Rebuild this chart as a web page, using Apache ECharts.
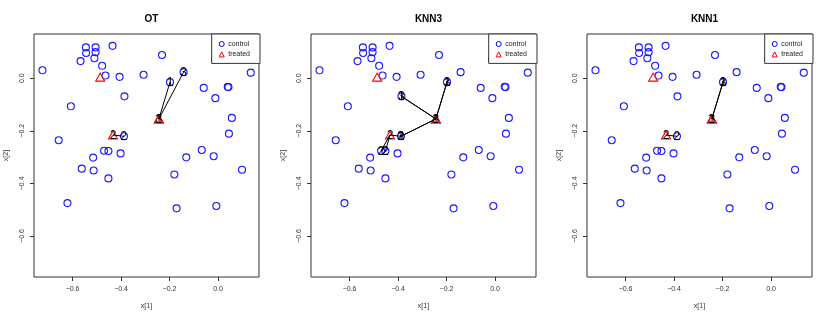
<!DOCTYPE html>
<html>
<head>
<meta charset="utf-8">
<script src="https://cdn.jsdelivr.net/npm/echarts@6/dist/echarts.min.js"></script>
<style>
  html, body { margin: 0; padding: 0; background: #fff; }
  #main { width: 830px; height: 320px; }
</style>
</head>
<body>
<div id="main"></div>
<script>
// panels
var panelTitles = ['OT', 'KNN3', 'KNN1'];

// control units
var controlX = [-0.724, -0.545, -0.505, -0.544, -0.505, -0.435, -0.567, -0.510, -0.478, -0.464,
  -0.406, -0.307, -0.231, -0.142, -0.198, -0.012, 0.135, -0.059, 0.040, 0.043,
  -0.011, -0.386, -0.607, 0.057, 0.045, -0.657, -0.388, -0.470, -0.452, -0.402,
  -0.515, -0.131, -0.067, -0.018, -0.562, -0.513, 0.099, -0.452, -0.180, -0.621,
  -0.171, -0.007, -0.505];
var controlY = [0.030, 0.117, 0.117, 0.096, 0.099, 0.123, 0.065, 0.076, 0.047, 0.010,
  0.005, 0.013, 0.088, 0.023, -0.015, 0.073, 0.021, -0.037, -0.033, -0.034,
  -0.076, -0.069, -0.107, -0.151, -0.211, -0.236, -0.221, -0.276, -0.277, -0.286,
  -0.302, -0.301, -0.273, -0.297, -0.344, -0.351, -0.348, -0.381, -0.366, -0.475,
  -0.495, -0.486, 0.180];

// treated units
var treatedX = [-0.244, -0.433, -0.244, -0.486];
var treatedY = [-0.155, -0.216, -0.155, 0.004];
var treatedLabels = ['1', '2', '3', ''];

// matches: [treated index, control index]
var otPairs = [[0, 14], [1, 26], [2, 13]];
var knn3Pairs = [[0, 14], [0, 21], [0, 26], [1, 26], [1, 27], [1, 28], [2, 14], [2, 21], [2, 26]];
var knn1Pairs = [[0, 14], [1, 26], [2, 14]];
var panelPairs = [otPairs, knn3Pairs, knn1Pairs];

// axes
var xRange = [-0.759, 0.169];
var yRange = [-0.756, 0.168];
var xTicks = [-0.6, -0.4, -0.2, 0.0];
var yTicks = [-0.6, -0.4, -0.2, 0.0];

var font = "'Liberation Sans', Arial, Helvetica, sans-serif";
var chart = echarts.init(document.getElementById('main'));

function fmt(v) {
  return (v < -1e-9 ? '\u2212' : '') + Math.abs(v).toFixed(1);
}

var controlData = controlX.map(function (x, i) { return [x, controlY[i]]; });
var treatedData = treatedX.map(function (x, i) { return [x, treatedY[i]]; });

// text at data points, drawn through the axes of the panel
function labelRender(params, api) {
  var pt = api.coord([api.value(0), api.value(1)]);
  return {
    type: 'text',
    x: pt[0], y: pt[1] + 0.5,
    style: {
      text: String(api.value(2)),
      fill: '#000',
      fontSize: 12,
      fontFamily: font,
      align: 'center',
      verticalAlign: 'middle'
    }
  };
}

var pw = 830 / 3;
var grids = [], xAxes = [], yAxes = [], titles = [], legends = [], series = [];

for (var p = 0; p < 3; p++) {
  var left = Math.round(34 + p * pw);
  grids.push({
    left: left, top: 34, width: 225, height: 243,
    show: true, borderColor: '#333', borderWidth: 1, backgroundColor: 'transparent'
  });
  titles.push({
    text: panelTitles[p], left: left + 112.5, top: 9, textAlign: 'center',
    textStyle: { fontSize: 10, fontWeight: 'bold', color: '#000', fontFamily: font }
  });
  xAxes.push({
    gridIndex: p, type: 'value', min: xRange[0], max: xRange[1],
    name: 'x[1]', nameLocation: 'middle', nameGap: 26,
    nameTextStyle: { fontSize: 7, color: '#333', fontFamily: font },
    axisLine: { show: false, onZero: false },
    axisTick: { show: true, inside: false, length: 4, customValues: xTicks, lineStyle: { color: '#333' } },
    axisLabel: { customValues: xTicks, formatter: fmt, margin: 9, fontSize: 7, color: '#333', fontFamily: font },
    splitLine: { show: false }
  });
  yAxes.push({
    gridIndex: p, type: 'value', min: yRange[0], max: yRange[1],
    name: 'x[2]', nameLocation: 'middle', nameGap: 24,
    nameTextStyle: { fontSize: 7, color: '#333', fontFamily: font },
    axisLine: { show: false, onZero: false },
    axisTick: { show: true, inside: false, length: 4, customValues: yTicks, lineStyle: { color: '#333' } },
    axisLabel: { customValues: yTicks, formatter: fmt, rotate: 90, margin: 8, fontSize: 7, color: '#333', fontFamily: font },
    splitLine: { show: false }
  });
  legends.push({
    left: left + 177.7, top: 34, orient: 'vertical',
    selectedMode: false,
    padding: [5, 10, 4, 5], itemGap: 0.4, itemWidth: 5, itemHeight: 5,
    backgroundColor: '#fff', borderColor: '#333', borderWidth: 1, borderRadius: 0,
    z: 10,
    textStyle: { fontSize: 7, lineHeight: 8, color: '#222', fontFamily: font, padding: [0, 0, 0, -1] },
    data: [
      { name: 'control', icon: 'circle', itemStyle: { color: 'none', borderColor: '#0000ff', borderWidth: 1 } },
      { name: 'treated', icon: 'triangle', itemStyle: { color: 'none', borderColor: '#ff0000', borderWidth: 1 } }
    ]
  });

  series.push({
    name: 'control', type: 'scatter', xAxisIndex: p, yAxisIndex: p,
    data: controlData, symbol: 'circle', symbolSize: 7, z: 2, silent: true,
    itemStyle: { color: 'none', borderColor: '#1a1aff', borderWidth: 1.1, opacity: 1 }
  });
  series.push({
    name: 'treated', type: 'scatter', xAxisIndex: p, yAxisIndex: p,
    data: treatedData, symbol: 'triangle', symbolSize: [9, 8], z: 2, silent: true,
    itemStyle: { color: 'none', borderColor: '#ff0000', borderWidth: 1.1, opacity: 1 }
  });

  var pairs = panelPairs[p];
  var segs = [], labs = [];
  pairs.forEach(function (pr) {
    var t = pr[0], c = pr[1];
    segs.push({ coords: [[treatedX[t], treatedY[t]], [controlX[c], controlY[c]]] });
    labs.push([controlX[c], controlY[c], treatedLabels[t]]);
  });
  [0, 1, 2].forEach(function (t) {
    labs.push([treatedX[t], treatedY[t], treatedLabels[t]]);
  });

  series.push({
    name: 'match', type: 'lines', coordinateSystem: 'cartesian2d', xAxisIndex: p, yAxisIndex: p,
    data: segs, z: 3, silent: true,
    lineStyle: { color: '#000', width: 1, opacity: 1, curveness: 0 }
  });
  series.push({
    name: 'labels', type: 'custom', xAxisIndex: p, yAxisIndex: p,
    data: labs, z: 4, silent: true,
    dimensions: ['x', 'y', { name: 'lab', type: 'ordinal' }],
    encode: { x: 0, y: 1 },
    renderItem: labelRender
  });
}

chart.setOption({
  animation: false,
  backgroundColor: '#fff',
  title: titles,
  legend: legends,
  grid: grids,
  xAxis: xAxes,
  yAxis: yAxes,
  series: series
});
</script>
</body>
</html>
